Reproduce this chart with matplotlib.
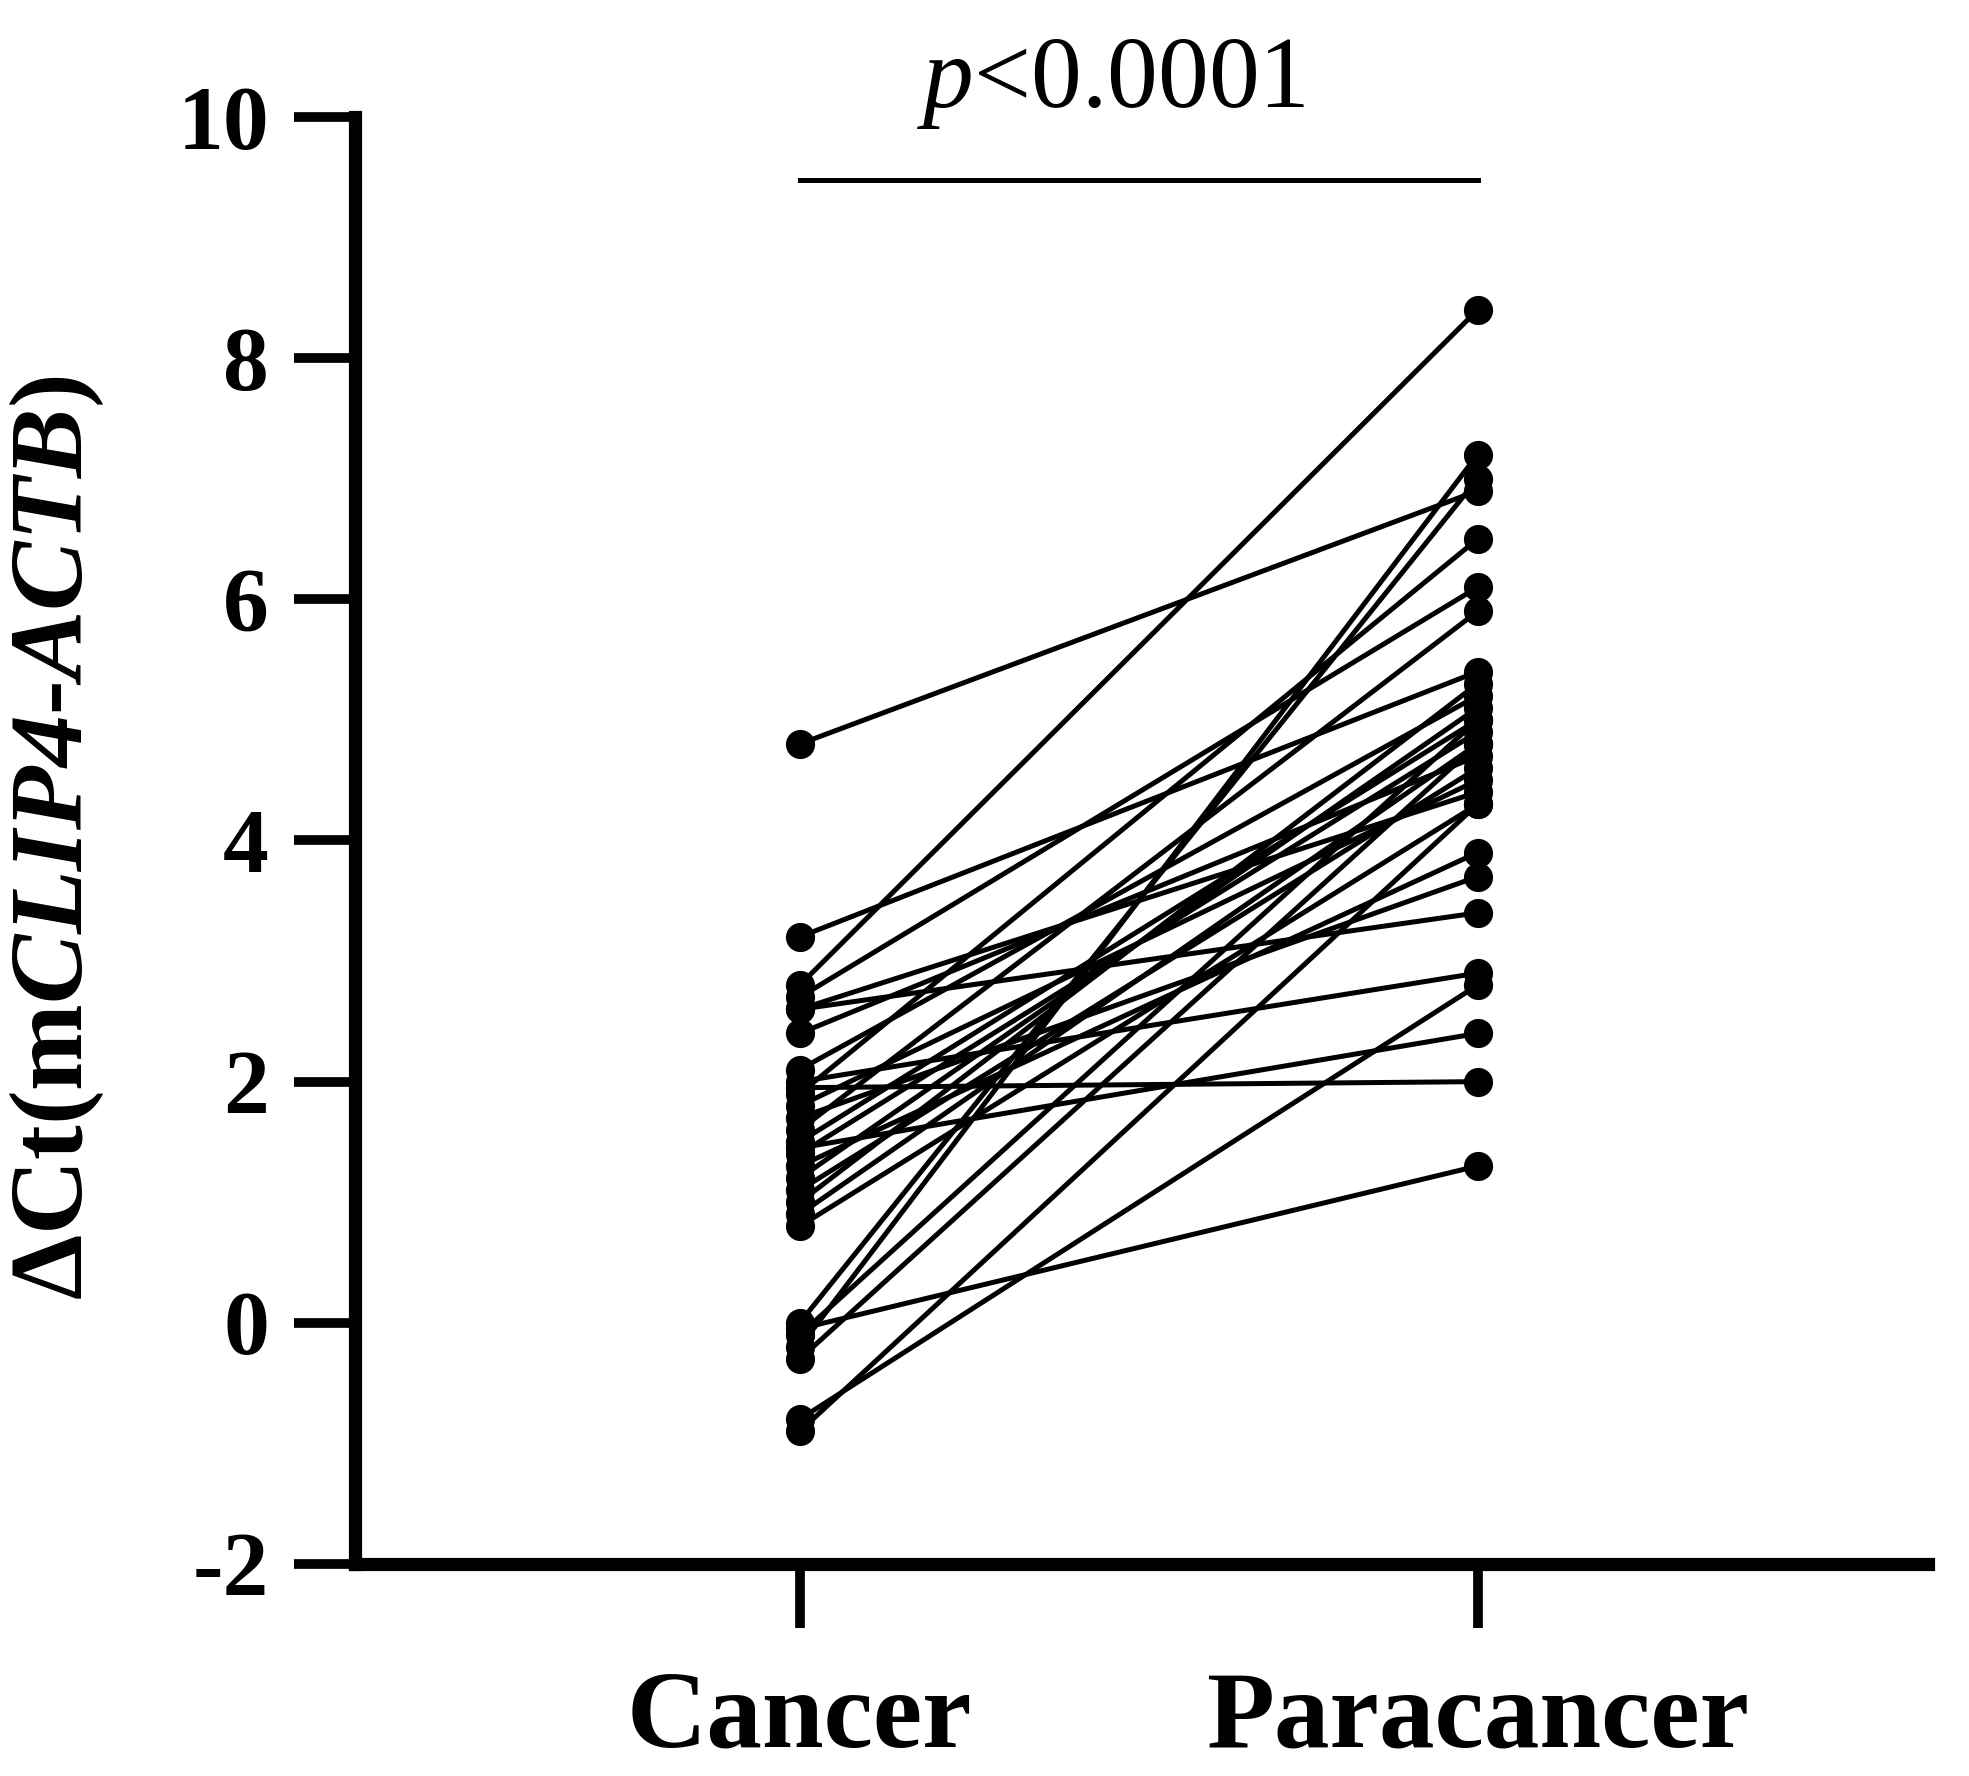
import matplotlib
matplotlib.use("Agg")
import matplotlib.pyplot as plt

plt.rcParams['font.family'] = ['Liberation Serif', 'DejaVu Serif']
plt.rcParams['mathtext.fontset'] = 'custom'
plt.rcParams['mathtext.rm'] = 'Liberation Serif:bold'
plt.rcParams['mathtext.it'] = 'Liberation Serif:italic'
plt.rcParams['mathtext.bf'] = 'Liberation Serif:bold:italic'

groups = ["Cancer", "Paracancer"]
cancer = [4.8, 3.2, 2.8, 2.7, 2.6, 2.6, 2.4, 2.1, 2.0, 1.95, 1.9, 1.8, 1.7, 1.6, 1.5,
          1.45, 1.4, 1.3, 1.2, 1.1, 1.0, 0.9, 0.8, 0.0, -0.05, -0.1, -0.2, -0.3, -0.8, -0.9]
paracancer = [6.9, 5.4, 8.4, 6.1, 4.4, 3.4, 4.7, 5.2, 2.9, 2.0, 6.5, 4.5, 3.7, 5.9, 5.0,
              2.4, 4.9, 3.9, 5.1, 4.6, 5.3, 4.8, 4.3, 7.0, 1.3, 5.0, 7.2, 4.8, 2.8, 4.3]
yticks = [-2, 0, 2, 4, 6, 8, 10]
p_label = "$p$<0.0001"

fig = plt.figure(figsize=(19.69, 17.76), dpi=100)
ax = fig.add_axes([0.1803, 0.1194, 0.7987, 0.8147])

for c, p in zip(cancer, paracancer):
    ax.plot([0, 1], [c, p], color='black', lw=3.6, marker='o', markersize=21,
            markeredgewidth=0, solid_capstyle='round', clip_on=False, zorder=3)

ax.set_xlim(-0.656, 1.664)
ax.set_ylim(-2, 10)
ax.set_yticks(yticks)
ax.set_yticklabels([str(t) for t in yticks], fontsize=66, fontweight='bold')
ax.set_xticks([0, 1])
ax.set_xticklabels(groups, fontsize=80, fontweight='bold')

for s in ['top', 'right']:
    ax.spines[s].set_visible(False)
for s in ['left', 'bottom']:
    ax.spines[s].set_linewidth(9.5)
    ax.spines[s].set_capstyle('projecting')
ax.tick_params(axis='y', length=44, width=7, pad=18)
ax.tick_params(axis='x', length=46, width=7, pad=30)

# significance bar
ax.plot([0, 1], [9.48, 9.48], color='black', lw=3.6, clip_on=False)
ax.text(0.46, 10.08, p_label, ha='center', va='baseline', fontsize=73,
        fontweight='normal', clip_on=False)

fig.text(57 / 1969, 1 - 838 / 1776, "\u0394Ct(m$\\mathbf{CLIP4}$-$\\mathbf{ACTB}$)",
         rotation=90, ha='center', va='center', fontsize=75, fontweight='bold')

fig.savefig("out.png", dpi=100)
